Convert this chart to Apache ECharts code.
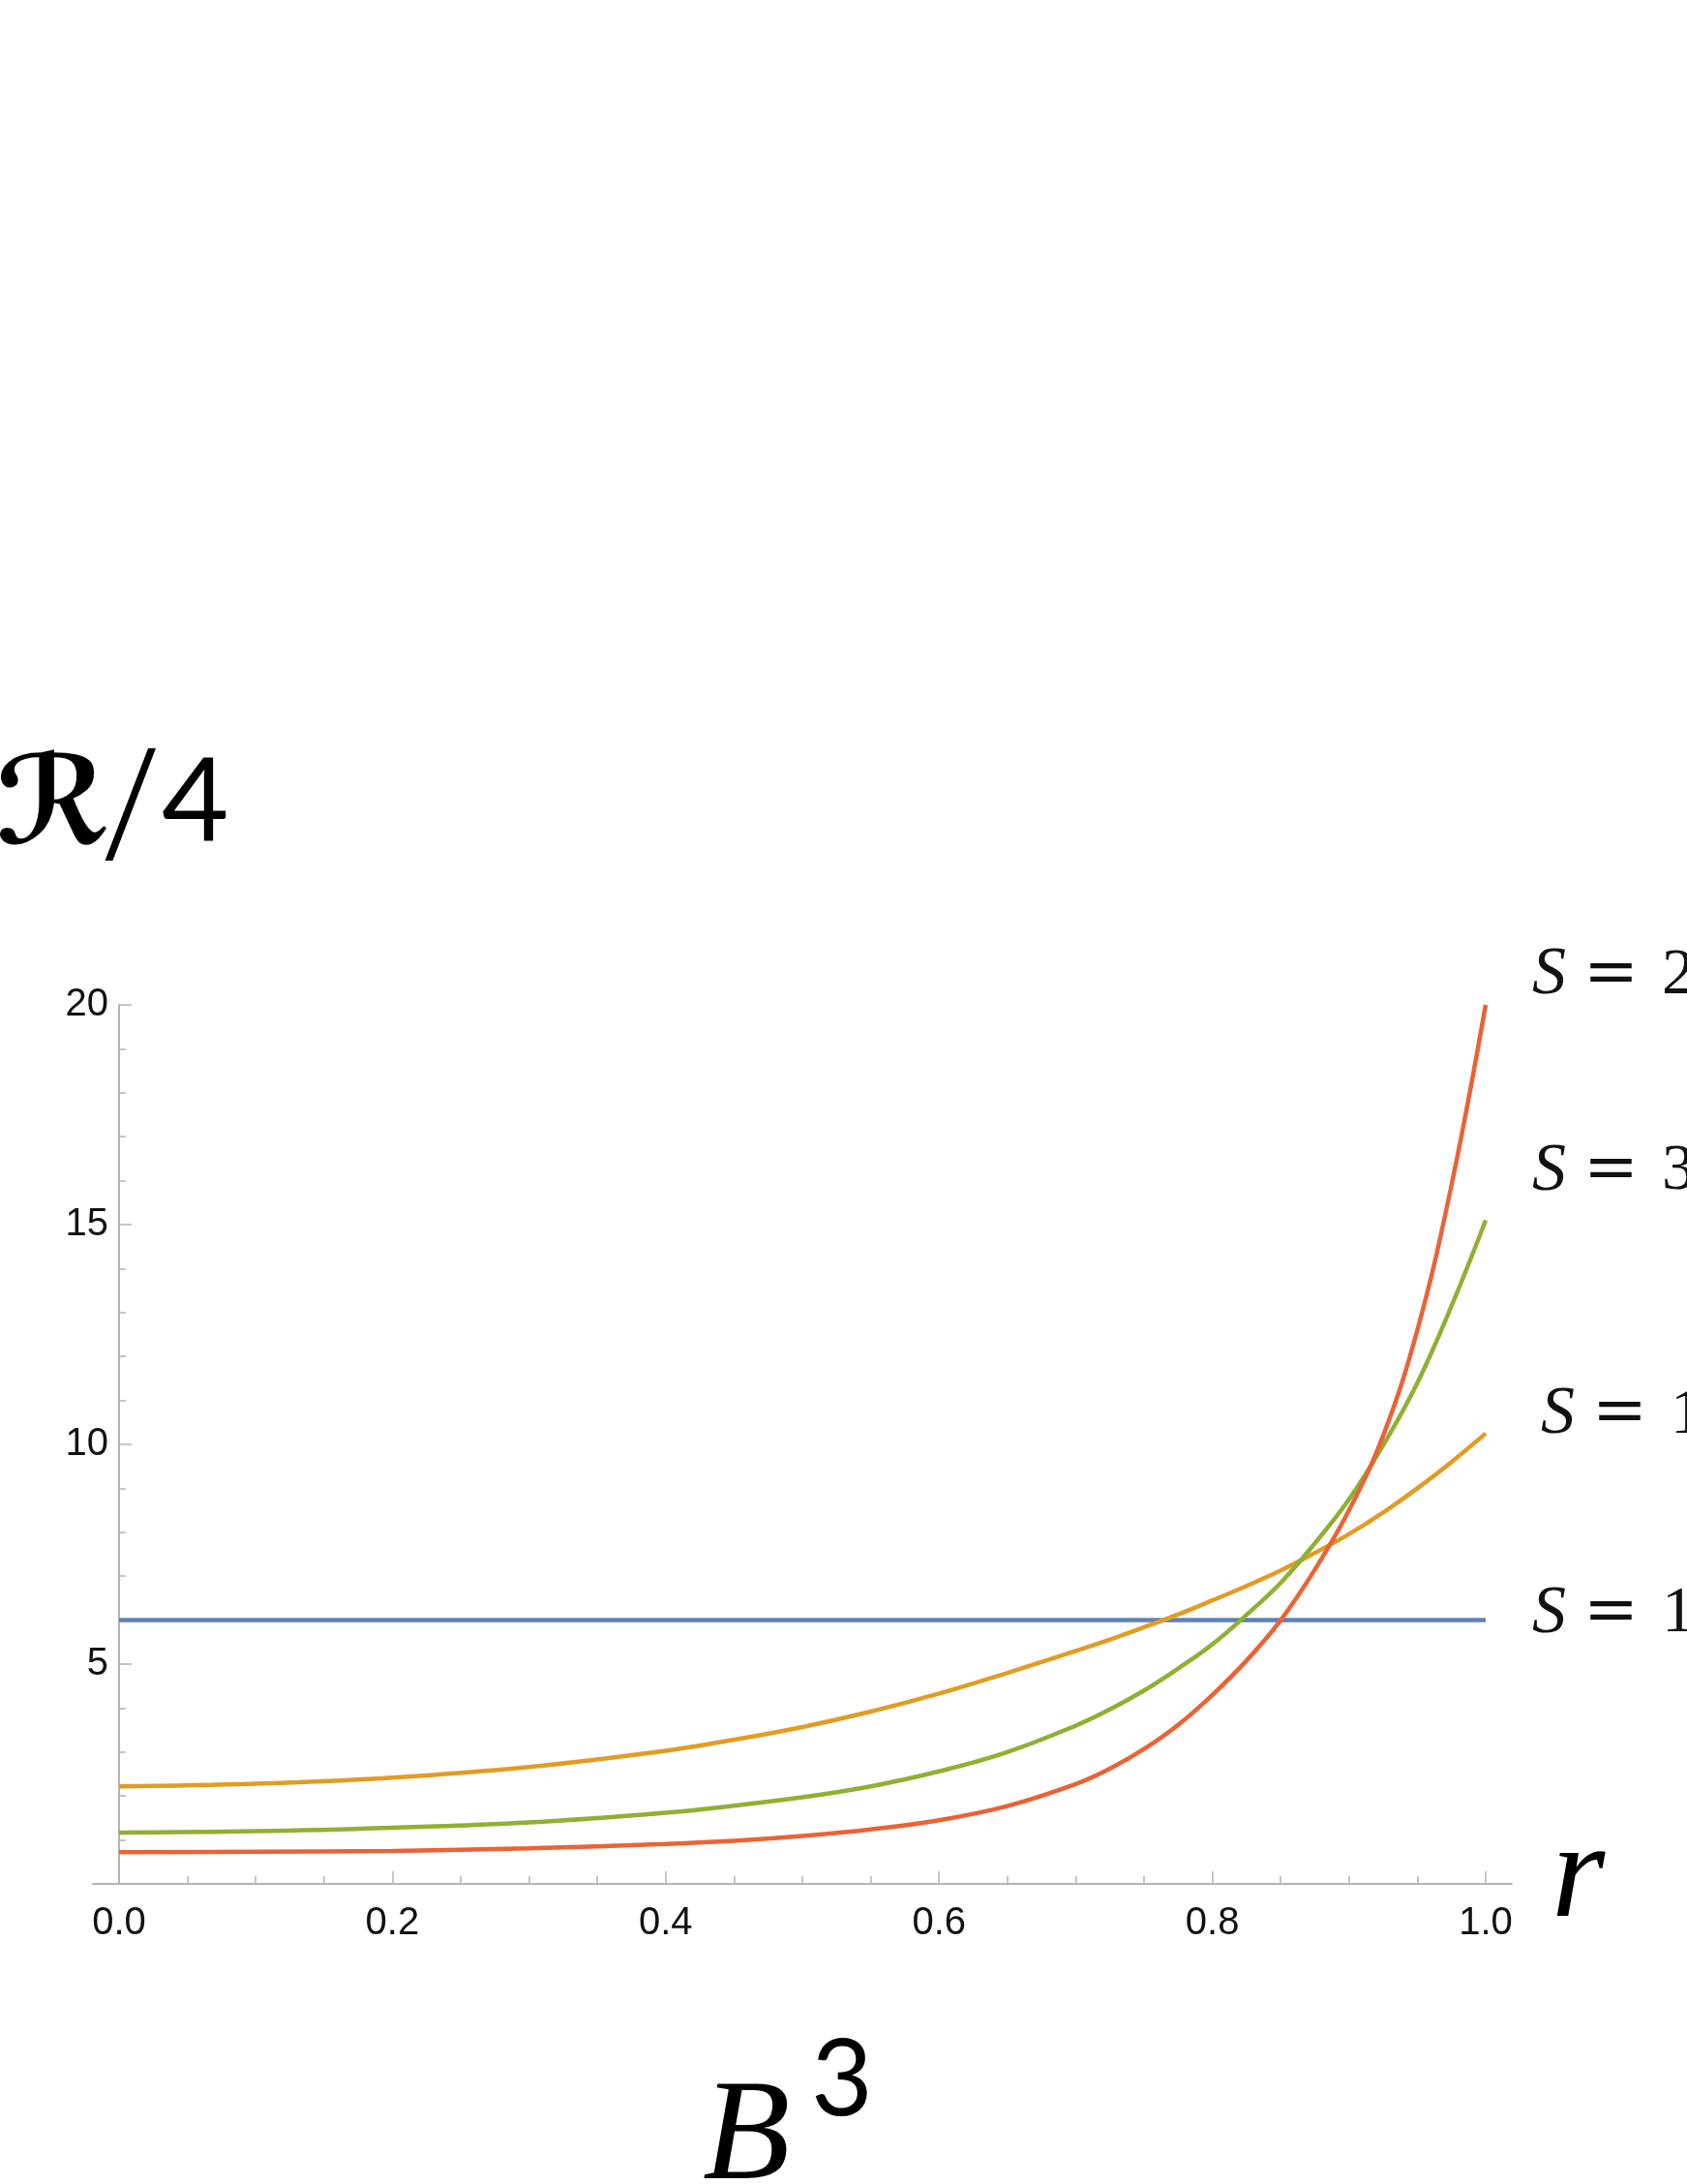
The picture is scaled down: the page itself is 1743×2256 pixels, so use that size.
<!DOCTYPE html>
<html>
<head>
<meta charset="utf-8">
<script src="https://cdn.jsdelivr.net/npm/echarts@6/dist/echarts.min.js"></script>
<style>
html,body{margin:0;padding:0;background:#fff;}
#main{width:1743px;height:2256px;}
</style>
</head>
<body>
<div id="main"></div>
<script>
// ---- data ----
const rValues  = [0, 0.1, 0.2, 0.3, 0.4, 0.45, 0.5, 0.55, 0.6, 0.65, 0.7, 0.725, 0.75, 0.775, 0.8, 0.825, 0.85, 0.875, 0.9, 0.925, 0.95, 0.975, 1.0];
const blueS1   = [6, 6, 6, 6, 6, 6, 6, 6, 6, 6, 6, 6, 6, 6, 6, 6, 6, 6, 6, 6, 6, 6, 6];
const orangeS1 = [2.22, 2.28, 2.42, 2.66, 3.03, 3.28, 3.57, 3.92, 4.33, 4.8, 5.3, 5.56, 5.84, 6.13, 6.45, 6.78, 7.13, 7.53, 7.96, 8.45, 9.0, 9.6, 10.25];
const greenS3  = [1.17, 1.2, 1.28, 1.4, 1.62, 1.78, 1.97, 2.22, 2.56, 3.0, 3.6, 3.97, 4.4, 4.9, 5.45, 6.12, 6.85, 7.75, 8.75, 9.98, 11.4, 13.15, 15.1];
const redS2    = [0.72, 0.73, 0.75, 0.81, 0.91, 0.98, 1.09, 1.24, 1.45, 1.77, 2.27, 2.62, 3.07, 3.62, 4.3, 5.08, 6.0, 7.15, 8.5, 10.2, 12.6, 15.9, 20.0];
const xTicks = { min: 0, max: 1, interval: 0.2 };
const yTicks = { min: 0, max: 20, interval: 5 };
const seriesNames = ['S = 1', 'S = 1', 'S = 3', 'S = 2'];
const seriesLabels = ['1', '1', '3', '2'];

const colors = ['#5E81B5', '#E19C24', '#8FB032', '#EB6235'];
const axisGray = '#b4b4b4';

function pairs(ys){ return rValues.map((r,i)=>[r, ys[i]]); }

function endLabel(num, dx, dy){
  return {
    show: true,
    distance: 0,
    align: 'left',
    verticalAlign: 'middle',
    offset: [dx, dy],
    formatter: '{s|S}{e|=}{n|' + num + '}',
    rich: {
      s: { fontFamily: 'Liberation Serif', fontStyle: 'italic', fontSize: 70, color: '#111', padding: [0, 18, 0, 0] },
      e: { fontFamily: 'DejaVu Serif', fontSize: 68, color: '#111', padding: [0, 24, 0, 0] },
      n: { fontFamily: 'Liberation Serif', fontSize: 68, color: '#111' }
    }
  };
}

function lineSeries(name, data, color, lab){
  return {
    name: name,
    type: 'line',
    xAxisIndex: 0, yAxisIndex: 0,
    data: pairs(data),
    showSymbol: false,
    smooth: 0.4,
    clip: false,
    lineStyle: { color: color, width: 4.5 },
    itemStyle: { color: color },
    endLabel: lab,
    animation: false
  };
}

const chart = echarts.init(document.getElementById('main'), null, { renderer: 'canvas' });
chart.setOption({
  backgroundColor: '#ffffff',
  animation: false,
  grid: [
    { left: 123, right: 208, top: 1038, bottom: 310 },
    { left: 96, right: 181, top: 1038, bottom: 310 }
  ],
  xAxis: [
    {
      type: 'value', gridIndex: 0,
      min: xTicks.min, max: xTicks.max, interval: xTicks.interval,
      axisLine: { show: false },
      axisTick: { show: true, inside: true, length: 13, lineStyle: { color: axisGray, width: 1.5 } },
      minorTick: { show: true, splitNumber: 4, length: 8, lineStyle: { color: axisGray, width: 1.5 } },
      splitLine: { show: false },
      minorSplitLine: { show: false },
      axisLabel: {
        show: true, margin: 21, color: '#111',
        fontFamily: 'Liberation Sans', fontSize: 40,
        formatter: v => v.toFixed(1)
      }
    },
    {
      type: 'value', gridIndex: 1, min: 0, max: 1,
      axisLine: { show: true, onZero: false, lineStyle: { color: axisGray, width: 2 } },
      axisTick: { show: false }, axisLabel: { show: false }, splitLine: { show: false }
    }
  ],
  yAxis: [
    {
      type: 'value', gridIndex: 0,
      min: yTicks.min, max: yTicks.max, interval: yTicks.interval,
      axisLine: { show: true, lineStyle: { color: axisGray, width: 2 } },
      axisTick: { show: true, inside: true, length: 13, lineStyle: { color: axisGray, width: 1.5 } },
      minorTick: { show: true, splitNumber: 5, length: 7, lineStyle: { color: axisGray, width: 1.5 } },
      splitLine: { show: false },
      axisLabel: {
        show: true, margin: 11, color: '#111',
        fontFamily: 'Liberation Sans', fontSize: 40,
        formatter: v => (v === 0 ? '' : String(v))
      }
    },
    { type: 'value', gridIndex: 1, show: false, min: 0, max: 20 }
  ],
  series: [
    lineSeries(seriesNames[0], blueS1, colors[0], endLabel(seriesLabels[0], 48, -6)),
    lineSeries(seriesNames[1], orangeS1, colors[1], endLabel(seriesLabels[1], 57, -19)),
    lineSeries(seriesNames[2], greenS3, colors[2], endLabel(seriesLabels[2], 48, -50)),
    lineSeries(seriesNames[3], redS2, colors[3], endLabel(seriesLabels[3], 48, -30))
  ],
  graphic: [
    { type: 'text', x: -4, y: 838, style: { text: 'ℛ', font: 'bold 126px "DejaVu Sans"', fill: '#000', align: 'left', verticalAlign: 'middle' } },
    { type: 'text', x: 136, y: 842, style: { text: '/', font: '300 150px Roboto', fill: '#000', align: 'center', verticalAlign: 'middle' } },
    { type: 'text', x: 167, y: 830, style: { text: '4', font: '120px Lato', fill: '#000', align: 'left', verticalAlign: 'middle' } },
    { type: 'text', x: 1603, y: 1942, style: { text: 'r', font: 'italic 142px "Liberation Serif"', fill: '#000', align: 'left', verticalAlign: 'middle' } },
    { type: 'text', x: 726, y: 2211, style: { text: 'B', font: 'italic 148px "Liberation Serif"', fill: '#000', align: 'left', verticalAlign: 'middle' } },
    { type: 'text', x: 838, y: 2150, style: { text: '3', font: '110px Lato', fill: '#000', align: 'left', verticalAlign: 'middle' } }
  ]
});
</script>
</body>
</html>
